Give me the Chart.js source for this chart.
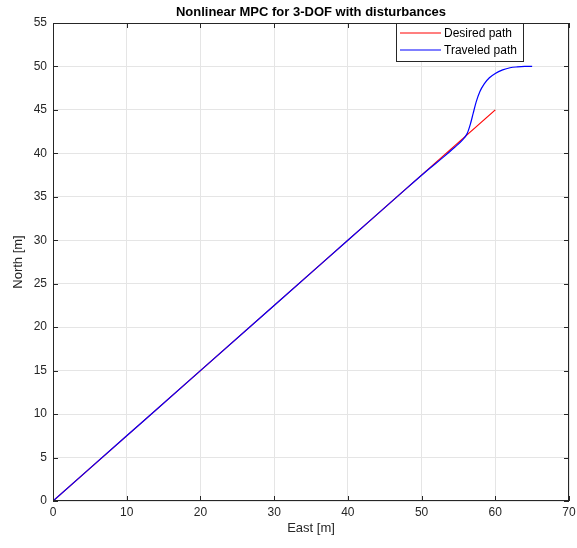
<!DOCTYPE html>
<html>
<head>
<meta charset="utf-8">
<script src="https://cdn.jsdelivr.net/npm/chart.js@4"></script>
<style>
  body { margin: 0; background: #fff; }
  canvas { display: block; }
</style>
</head>
<body>
<canvas id="graph" width="577" height="548"></canvas>
<script>
// desired path is a straight line, traveled path leaves it near the end
const desiredX = [0, 60];
const desiredY = [0, 45];
const traveledX = [0, 10, 20, 30, 40, 48, 51, 53, 54.5, 55.5, 56.2, 56.6, 57.0, 57.4, 57.9, 58.5, 59.2, 60.0, 61.0, 62.0, 63.0, 64.0, 65.0];
const traveledY = [0, 7.5, 15, 22.5, 30, 36, 38.2, 39.6, 40.7, 41.5, 42.3, 43.3, 44.6, 45.9, 47.1, 48.0, 48.7, 49.2, 49.6, 49.85, 49.95, 50, 50];
const xTicks = [0, 10, 20, 30, 40, 50, 60, 70];
const yTicks = [0, 5, 10, 15, 20, 25, 30, 35, 40, 45, 50, 55];
const seriesColors = ['#ff0000', '#0000ff'];

const FONT = 'Liberation Sans, Arial, Helvetica, sans-serif';
const AXIS_COLOR = '#262626';

function toPoints(xs, ys) {
    return xs.map((x, i) => ({ x: x, y: ys[i] }));
}

// title, box, inward tick marks and legend in the matlab style
const matlabFrame = {
    id: 'matlabFrame',
    afterDraw(chart) {
        const ctx = chart.ctx;
        const a = chart.chartArea;
        const xs = chart.scales.x;
        const ys = chart.scales.y;
        ctx.save();

        // title
        ctx.fillStyle = '#000';
        ctx.font = 'bold 13px ' + FONT;
        ctx.textAlign = 'center';
        ctx.textBaseline = 'middle';
        ctx.fillText('Nonlinear MPC for 3-DOF with disturbances', (a.left + a.right) / 2, 12);

        // box
        ctx.strokeStyle = AXIS_COLOR;
        ctx.lineWidth = 1;
        ctx.strokeRect(Math.round(a.left) + 0.5, Math.round(a.top) + 0.5,
            Math.round(a.right - a.left) - 1, Math.round(a.bottom - a.top) - 1);

        // ticks inward
        const tl = 5;
        ctx.beginPath();
        xTicks.forEach(v => {
            const px = Math.round(xs.getPixelForValue(v)) + 0.5;
            ctx.moveTo(px, a.bottom); ctx.lineTo(px, a.bottom - tl);
            ctx.moveTo(px, a.top); ctx.lineTo(px, a.top + tl);
        });
        yTicks.forEach(v => {
            const py = Math.round(ys.getPixelForValue(v)) + 0.5;
            ctx.moveTo(a.left, py); ctx.lineTo(a.left + tl, py);
            ctx.moveTo(a.right, py); ctx.lineTo(a.right - tl, py);
        });
        ctx.stroke();

        // legend
        const lx = 396.5, ly = 23.5, lw = 127, lh = 38;
        ctx.fillStyle = '#fff';
        ctx.fillRect(lx, ly, lw, lh);
        ctx.strokeStyle = AXIS_COLOR;
        ctx.strokeRect(lx, ly, lw, lh);
        ctx.font = '12px ' + FONT;
        ctx.textAlign = 'left';
        chart.data.datasets.forEach((ds, i) => {
            const yy = 33 + i * 17;
            ctx.beginPath();
            ctx.strokeStyle = seriesColors[i];
            ctx.lineWidth = 1.2;
            ctx.moveTo(400, yy); ctx.lineTo(441, yy);
            ctx.stroke();
            ctx.fillStyle = '#000';
            ctx.fillText(ds.label, 444, yy + 0.5);
        });
        ctx.restore();
    }
};

const ctx = document.getElementById('graph').getContext('2d');
window.pathChart = new Chart(ctx, {
    type: 'scatter',
    data: {
        datasets: [{
            label: 'Desired path',
            data: toPoints(desiredX, desiredY),
            showLine: true,
            borderColor: seriesColors[0],
            borderWidth: 1.2,
            pointRadius: 0,
            order: 2,
        }, {
            label: 'Traveled path',
            data: toPoints(traveledX, traveledY),
            showLine: true,
            borderColor: seriesColors[1],
            borderWidth: 1.2,
            pointRadius: 0,
            cubicInterpolationMode: 'monotone',
            order: 1,
        }],
    },
    options: {
        responsive: false,
        animation: false,
        layout: { padding: { top: 23, right: 0, left: 0, bottom: 0 } },
        plugins: {
            legend: { display: false },
            tooltip: { enabled: false },
        },
        scales: {
            x: {
                type: 'linear',
                min: 0,
                max: 70,
                afterBuildTicks: s => { s.ticks = xTicks.map(v => ({ value: v })); },
                afterFit: s => { s.height = 47; s.paddingRight = 8; },
                grid: { color: '#e5e5e5', drawTicks: false },
                border: { display: false },
                ticks: { color: AXIS_COLOR, font: { family: FONT, size: 12 }, padding: 4, maxRotation: 0 },
                title: { display: true, text: 'East [m]', color: AXIS_COLOR, font: { family: FONT, size: 13 }, padding: { top: 0, bottom: 12 } },
            },
            y: {
                type: 'linear',
                min: 0,
                max: 55,
                afterBuildTicks: s => { s.ticks = yTicks.map(v => ({ value: v })); },
                afterFit: s => { s.width = 53; },
                grid: { color: '#e5e5e5', drawTicks: false },
                border: { display: false },
                ticks: { color: AXIS_COLOR, font: { family: FONT, size: 12 }, padding: 6 },
                title: { display: true, text: 'North [m]', color: AXIS_COLOR, font: { family: FONT, size: 13 }, padding: { top: 11, bottom: 0 } },
            },
        },
    },
    plugins: [matlabFrame],
});
</script>
</body>
</html>
